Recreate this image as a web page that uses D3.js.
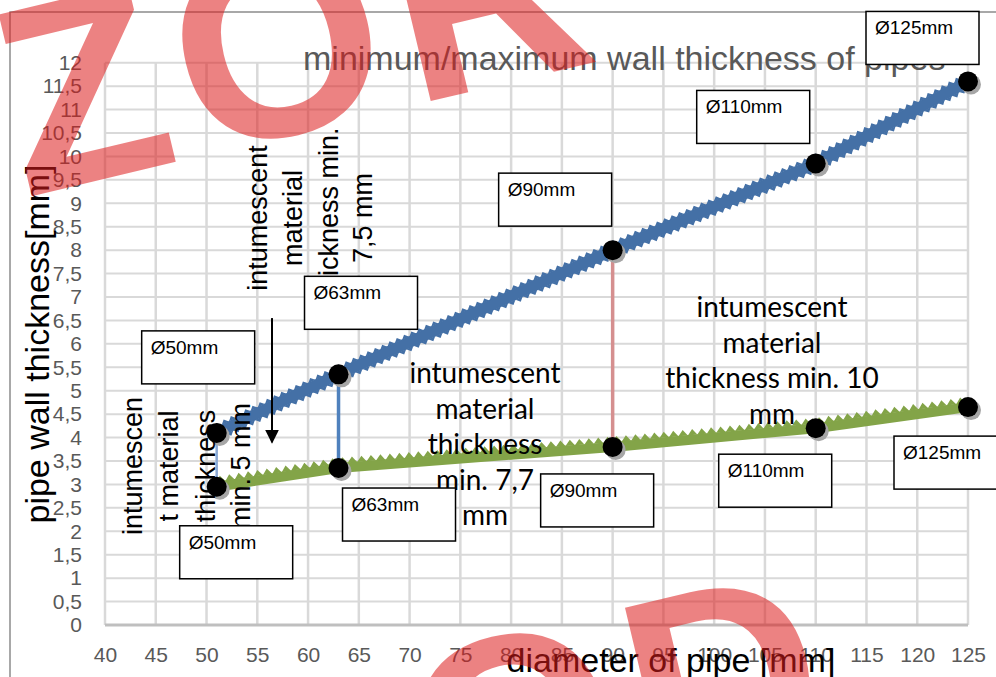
<!DOCTYPE html>
<html>
<head>
<meta charset="utf-8">
<script src="https://cdn.jsdelivr.net/npm/d3@7"></script>
<style>
  body { margin: 0; background: #fff; }
  svg { display: block; }
</style>
</head>
<body>
<div id="chart"></div>
<script>
const width = 996, height = 677;

// data
const diameters = [51, 63, 90, 110, 125];
const maxWall = [4.1, 5.35, 8.0, 9.85, 11.6];
const minWall = [2.95, 3.35, 3.8, 4.2, 4.65];
const pipeLabels = ["Ø50mm", "Ø63mm", "Ø90mm", "Ø110mm", "Ø125mm"];
const xTicks = [40, 45, 50, 55, 60, 65, 70, 75, 80, 85, 90, 95, 100, 105, 110, 115, 120, 125];
const yTicks = [0, 0.5, 1, 1.5, 2, 2.5, 3, 3.5, 4, 4.5, 5, 5.5, 6, 6.5, 7, 7.5, 8, 8.5, 9, 9.5, 10, 10.5, 11, 11.5, 12];

const svg = d3.select("#chart").append("svg")
  .attr("width", width)
  .attr("height", height);

const x = d3.scaleLinear().domain([40, 125]).range([105, 968]);
const y = d3.scaleLinear().domain([0, 12]).range([625, 62.7]);

// cadre du graphique
svg.append("rect")
  .attr("x", 10).attr("y", 12)
  .attr("width", 1000).attr("height", 700)
  .attr("fill", "none")
  .attr("stroke", "#8c8c8c")
  .attr("stroke-width", 1.5);

// grille
svg.append("g").selectAll("line")
  .data(yTicks)
  .join("line")
  .attr("x1", x(40)).attr("x2", x(125))
  .attr("y1", d => y(d)).attr("y2", d => y(d))
  .attr("stroke", "#d9d9d9").attr("stroke-width", 2);
svg.append("g").selectAll("line")
  .data(xTicks)
  .join("line")
  .attr("x1", d => x(d)).attr("x2", d => x(d))
  .attr("y1", y(0)).attr("y2", y(12))
  .attr("stroke", "#d9d9d9").attr("stroke-width", 2.5);
svg.append("line")
  .attr("x1", x(40)).attr("x2", x(125))
  .attr("y1", y(0)).attr("y2", y(0))
  .attr("stroke", "#bfbfbf").attr("stroke-width", 3);

// axes
const yAxis = svg.append("g")
  .attr("transform", `translate(${x(40)},0)`)
  .call(d3.axisLeft(y).tickValues(yTicks).tickSize(0).tickPadding(23)
    .tickFormat(d => String(d).replace(".", ",")));
const xAxis = svg.append("g")
  .attr("transform", `translate(0,${y(0)})`)
  .call(d3.axisBottom(x).tickValues(xTicks).tickSize(0).tickPadding(22));
[yAxis, xAxis].forEach(g => {
  g.select(".domain").remove();
  g.selectAll("text")
    .attr("fill", "#595959")
    .style("font-family", "Liberation Sans, Arial, sans-serif")
    .style("font-size", "21px");
});

// titre
svg.append("text")
  .attr("x", 303).attr("y", 70)
  .attr("fill", "#595959")
  .style("font-family", "Liberation Sans, Arial, sans-serif")
  .style("font-size", "34px")
  .text("minimum/maximum wall thickness of pipes");

// traits verticaux entre min et max
const connectors = [
  { i: 0, color: "#8aa8d4", w: 2.5 },
  { i: 1, color: "#4f81bd", w: 3.5 },
  { i: 2, color: "#d58f8f", w: 3.5 }
];
svg.append("g").selectAll("line")
  .data(connectors)
  .join("line")
  .attr("x1", d => x(diameters[d.i])).attr("x2", d => x(diameters[d.i]))
  .attr("y1", d => y(maxWall[d.i])).attr("y2", d => y(minWall[d.i]))
  .attr("stroke", d => d.color).attr("stroke-width", d => d.w);

// lignes dentelées
function teethPath(pts, h, amp, period, sides) {
  let p = "";
  for (let k = 0; k < pts.length - 1; k++) {
    const [x0, y0] = pts[k], [x1, y1] = pts[k + 1];
    const L = Math.hypot(x1 - x0, y1 - y0);
    const ux = (x1 - x0) / L, uy = (y1 - y0) / L;
    const nx = uy, ny = -ux;
    sides.forEach(s => {
      for (let t = 0; t < L; t += period) {
        const e = Math.min(t + period, L), m = (t + e) / 2;
        const a = [x0 + ux * t + nx * h * s, y0 + uy * t + ny * h * s];
        const b = [x0 + ux * m + nx * (h + amp) * s, y0 + uy * m + ny * (h + amp) * s];
        const c = [x0 + ux * e + nx * h * s, y0 + uy * e + ny * h * s];
        p += `M${a}L${b}L${c}Z`;
      }
    });
  }
  return p;
}

const series = [
  { values: maxWall, color: "#4470a6", core: 11, amp: 4, period: 8, sides: [1, -1] },
  { values: minWall, color: "#83a448", core: 10, amp: 6, period: 9.5, sides: [1] }
];
series.forEach(s => {
  const pts = diameters.map((d, i) => [x(d), y(s.values[i])]);
  svg.append("path")
    .attr("d", d3.line()(pts))
    .attr("fill", "none")
    .attr("stroke", s.color)
    .attr("stroke-width", s.core);
  svg.append("path")
    .attr("d", teethPath(pts, s.core / 2 - 0.5, s.amp, s.period, s.sides))
    .attr("fill", s.color);
});

// marqueurs
series.forEach(s => {
  const g = svg.append("g");
  g.selectAll("circle.shadow")
    .data(diameters)
    .join("circle")
    .attr("class", "shadow")
    .attr("cx", d => x(d) + 3)
    .attr("cy", (d, i) => y(s.values[i]) + 3)
    .attr("r", 10)
    .attr("fill", "#a6a6a6");
  g.selectAll("circle.dot")
    .data(diameters)
    .join("circle")
    .attr("class", "dot")
    .attr("cx", d => x(d))
    .attr("cy", (d, i) => y(s.values[i]))
    .attr("r", 10)
    .attr("fill", "#000");
});

// flèche
svg.append("defs").append("marker")
  .attr("id", "arrow")
  .attr("viewBox", "0 0 10 10")
  .attr("refX", 9).attr("refY", 5)
  .attr("markerWidth", 7).attr("markerHeight", 9)
  .attr("orient", "auto")
  .append("path")
  .attr("d", "M0,0L10,5L0,10Z")
  .attr("fill", "#000");
svg.append("line")
  .attr("x1", x(56.45)).attr("x2", x(56.45))
  .attr("y1", y(6.55)).attr("y2", y(3.9))
  .attr("stroke", "#000").attr("stroke-width", 2)
  .attr("marker-end", "url(#arrow)");

// textes verticaux
const vertNotes = [
  { x: 142, y: 466, t: "intumescen" },
  { x: 178, y: 466, t: "t material" },
  { x: 215, y: 466, t: "thickness" },
  { x: 250, y: 466, t: "min. 5 mm" },
  { x: 267, y: 218, t: "intumescent" },
  { x: 302, y: 218, t: "material" },
  { x: 338, y: 213, t: "thickness min." },
  { x: 372, y: 218, t: "7,5 mm" }
];
svg.append("g").selectAll("text")
  .data(vertNotes)
  .join("text")
  .attr("transform", d => `translate(${d.x},${d.y}) rotate(-90)`)
  .attr("text-anchor", "middle")
  .style("font-family", "Liberation Sans, Arial, sans-serif")
  .style("font-size", "27px")
  .attr("fill", "#000")
  .text(d => d.t);

// textes horizontaux
const horizNotes = [
  { x: 485, y: 383, lines: ["intumescent", "material", "thickness", "min. 7,7", "mm"] },
  { x: 772, y: 317, lines: ["intumescent", "material", "thickness min. 10", "mm"] }
];
horizNotes.forEach(n => {
  svg.append("g").selectAll("text")
    .data(n.lines)
    .join("text")
    .attr("x", n.x)
    .attr("y", (d, i) => n.y + i * 35.5)
    .attr("text-anchor", "middle")
    .style("font-family", "Lato, sans-serif")
    .style("font-size", "28px")
    .attr("fill", "#000")
    .text(d => d);
});

// étiquettes Ø
const upperOffsets = [[-75, -102], [-34, -98], [-114, -77], [-119, -73], [-102, -70]];
const lowerOffsets = [[-37, 39], [4, 20], [-72, 27], [-97, 26], [-74, 29]];
const boxes = [];
diameters.forEach((d, i) => {
  boxes.push({ bx: x(d) + upperOffsets[i][0], by: y(maxWall[i]) + upperOffsets[i][1], t: pipeLabels[i] });
  boxes.push({ bx: x(d) + lowerOffsets[i][0], by: y(minWall[i]) + lowerOffsets[i][1], t: pipeLabels[i] });
});
const box = svg.append("g").selectAll("g")
  .data(boxes)
  .join("g")
  .attr("transform", d => `translate(${d.bx},${d.by})`);
box.append("rect")
  .attr("width", 113).attr("height", 53)
  .attr("fill", "#fff")
  .attr("stroke", "#000")
  .attr("stroke-width", 1.5);
box.append("text")
  .attr("x", 9).attr("y", 23)
  .style("font-family", "Liberation Sans, Arial, sans-serif")
  .style("font-size", "19px")
  .attr("fill", "#000")
  .text(d => d.t);

// titres des axes
svg.append("text")
  .attr("transform", "translate(49,344) rotate(-90)")
  .attr("text-anchor", "middle")
  .style("font-family", "Liberation Sans, Arial, sans-serif")
  .style("font-size", "34px")
  .text("pipe wall thickness[mm]");
svg.append("text")
  .attr("x", 671).attr("y", 672)
  .attr("text-anchor", "middle")
  .style("font-family", "Liberation Sans, Arial, sans-serif")
  .style("font-size", "34px")
  .text("diameter of pipe [mm]");

// filigrane
const wm = [
  { x: 24, y: 198, t: "ZOR" },
  { x: 232, y: 891, t: "ROD" }
];
svg.append("g").selectAll("text")
  .data(wm)
  .join("text")
  .attr("transform", d => `translate(${d.x},${d.y}) rotate(-13.4)`)
  .style("font-family", "Liberation Sans, Arial, sans-serif")
  .style("font-weight", "bold")
  .style("font-size", "268px")
  .style("letter-spacing", "14px")
  .attr("fill", "#dd1c1c")
  .attr("fill-opacity", 0.55)
  .text(d => d.t);
</script>
</body>
</html>
